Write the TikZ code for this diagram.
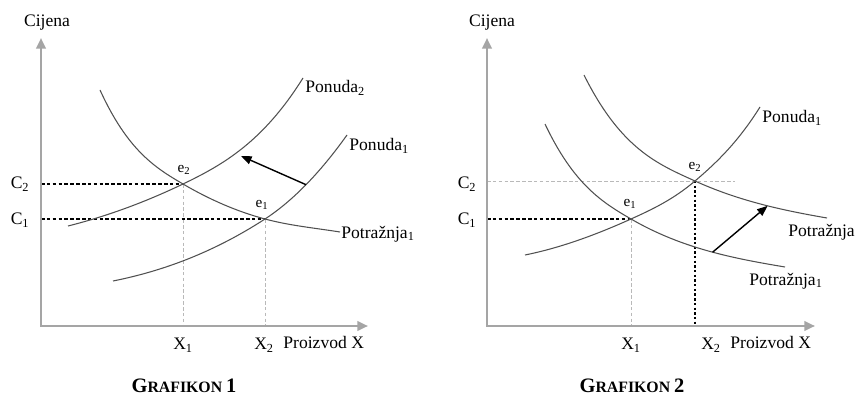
\documentclass[tikz,border=0pt]{standalone}
\usepackage{tikz}
\usepackage{fontspec}
\setmainfont{Liberation Serif}
\usetikzlibrary{arrows.meta, positioning}
\definecolor{axisgray}{RGB}{165, 165, 165}
\definecolor{curvegray}{RGB}{80, 80, 80}
\definecolor{guidegray}{RGB}{185, 185, 185}
\newcommand{\grafikon}[1]{{\bfseries\fontsize{17.5}{20}\selectfont G\fontsize{13.5}{15}\selectfont RAFIKON\ \fontsize{17.5}{20}\selectfont #1}}

\begin{document}
\begin{tikzpicture}[
        x=0.03cm, y=-0.03cm,
        axis/.style={draw=axisgray, line width=2pt,
                     {Triangle[length=9pt, width=8pt]}-{Triangle[length=9pt, width=8pt]}},
        curve/.style={draw=curvegray, line width=0.9pt},
        level/.style={line width=0.9pt, dash pattern=on 3pt off 2pt},
        guide/.style={draw=guidegray, line width=0.7pt, dash pattern=on 3pt off 2pt},
        movearrow/.style={-{Triangle[length=9pt, width=7pt]}, line width=1.2pt},
        lbl/.style={font=\fontsize{15}{17}\selectfont, inner sep=1pt},
        eq/.style={font=\fontsize{13}{15}\selectfont, inner sep=1pt},
        titlebox/.style={inner sep=0pt}
      ]
        \useasboundingbox (0,0) rectangle (858,396);

        % Grafikon 1
        \coordinate (o1) at (41,326);
        \coordinate (ytop1) at (41,38);
        \coordinate (xend1) at (368,326);
        \coordinate (e2a) at (183,184);
        \coordinate (e1a) at (265,219);
        \coordinate (shto1) at (241,156);
        \draw[guide] (e2a) -- (e2a |- o1);
        \draw[guide] (e1a) -- (e1a |- o1);
        \draw[level] (o1 |- e2a) -- (e2a);
        \draw[level] (o1 |- e1a) -- (e1a);
        \draw[axis] (ytop1) -- (o1) -- (xend1);
        % demand
        \draw[curve] (100,90) .. controls (127.7,150.6) and (155.3,167.8) .. (e2a)
                     .. controls (210.3,200) and (237.7,211.7) .. (e1a)
                     .. controls (290,225.7) and (315,228) .. (340,232);
        % supply 2
        \draw[curve] (68,226) .. controls (106.3,216.4) and (144.7,202.4) .. (e2a)
                     .. controls (223,164.8) and (263,142) .. (303,78);
        % supply 1
        \draw[curve] (113,281) .. controls (163.7,270.9) and (214.3,251.9) .. (e1a)
                     .. controls (292.3,201.2) and (319.7,173.3) .. (347,135)
                     coordinate[pos=0.5] (shfrom1);
        \draw[movearrow] (shfrom1) -- (shto1);
        \node[lbl] (cij1) at (47,23) {Cijena};
        \node[lbl] (c2a) at (20,184) {C\textsubscript{2}};
        \node[lbl] (c1a) at (20,220) {C\textsubscript{1}};
        \node[lbl] (x1a) at (183,345) {X\textsubscript{1}};
        \node[lbl] (x2a) at (264,345) {X\textsubscript{2}};
        \node[lbl, anchor=west] (proa) at (282,342) {Proizvod X};
        \node[eq] (e2alab) at (184,170) {e\textsubscript{2}};
        \node[eq] (e1alab) at (262,205) {e\textsubscript{1}};
        \node[lbl, anchor=west] (pon2a) at (304,88) {Ponuda\textsubscript{2}};
        \node[lbl, anchor=west] (pon1a) at (348,146) {Ponuda\textsubscript{1}};
        \node[lbl, anchor=west] (pot1a) at (340,234) {Potražnja\textsubscript{1}};
        \node[titlebox] (tit1) at (184,386) {\grafikon{1}};

        % Grafikon 2
        \coordinate (o2) at (487,326);
        \coordinate (ytop2) at (487,38);
        \coordinate (xend2) at (815,326);
        \coordinate (e2b) at (695,181);
        \coordinate (e1b) at (631,219);
        \coordinate (c2end) at (735,181);
        \draw[guide] (o2 |- e2b) -- (c2end);
        \draw[guide] (e1b) -- (e1b |- o2);
        \draw[level] (o2 |- e1b) -- (e1b);
        \draw[line width=1.3pt, dash pattern=on 2pt off 2pt] (e2b) -- (e2b |- o2);
        \draw[axis] (ytop2) -- (o2) -- (xend2);
        % supply
        \draw[curve] (525,255) .. controls (560.3,247.9) and (595.7,234.9) .. (e1b)
                     .. controls (652.3,209.4) and (673.7,199.2) .. (e2b)
                     .. controls (716.7,162.6) and (738.3,141.7) .. (760,107);
        % demand 1
        \draw[curve] (545,124) .. controls (573.7,184.5) and (602.3,202.4) .. (e1b)
                     .. controls (682.3,248.7) and (733.7,258.4) .. (785,267)
                     coordinate[pos=0.53] (shfrom2);
        % demand 2
        \draw[curve] (584,75) .. controls (621,149.2) and (658,164.2) .. (e2b)
                     .. controls (739,201) and (783,210.4) .. (827,218)
                     coordinate[pos=0.55] (shto2);
        \draw[movearrow] (shfrom2) -- (shto2);
        \node[lbl] (cij2) at (492,23) {Cijena};
        \node[lbl] (c2b) at (467,184) {C\textsubscript{2}};
        \node[lbl] (c1b) at (467,220) {C\textsubscript{1}};
        \node[lbl] (x1b) at (631,345) {X\textsubscript{1}};
        \node[lbl] (x2b) at (711,345) {X\textsubscript{2}};
        \node[lbl, anchor=west] (prob) at (729,342) {Proizvod X};
        \node[eq] (e2blab) at (695,167) {e\textsubscript{2}};
        \node[eq] (e1blab) at (630,204) {e\textsubscript{1}};
        \node[lbl, anchor=west] (pon1b) at (761,118) {Ponuda\textsubscript{1}};
        \node[lbl, anchor=west] (pot2b) at (787,232) {Potražnja};
        \node[lbl, anchor=west] (pot1b) at (748,281) {Potražnja\textsubscript{1}};
        \node[titlebox] (tit2) at (632,386) {\grafikon{2}};
      \end{tikzpicture}
\end{document}
